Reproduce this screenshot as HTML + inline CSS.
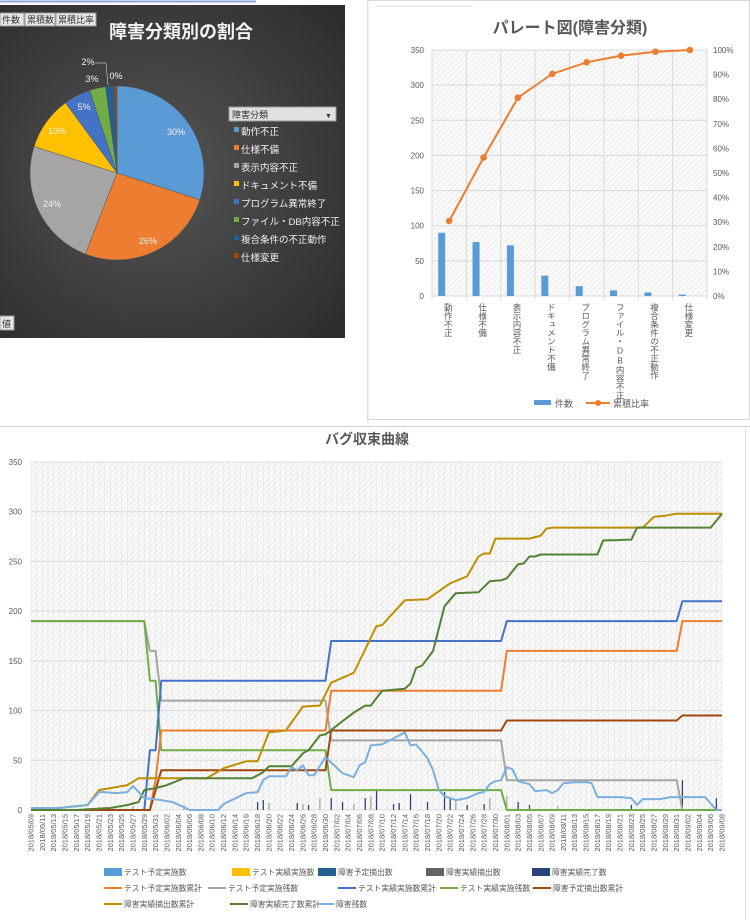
<!DOCTYPE html>
<html><head><meta charset="utf-8"><style>
body{margin:0;width:750px;height:920px;background:#fff;overflow:hidden;font-family:"Liberation Sans","Noto Sans CJK JP",sans-serif;}
svg{position:absolute;left:0;top:0}
</style></head><body>
<svg id="s" width="750" height="920" viewBox="0 0 750 920" xmlns="http://www.w3.org/2000/svg" font-family="Liberation Sans, Noto Sans CJK JP, sans-serif">
<defs>
<pattern id="hatch" width="4" height="4" patternUnits="userSpaceOnUse" patternTransform="rotate(45)">
<rect width="4" height="4" fill="#fafafa"/><line x1="0" y1="0" x2="0" y2="4" stroke="#e2e2e2" stroke-width="1.2"/></pattern>
<radialGradient id="dark" cx="0.45" cy="0.5" r="0.7"><stop offset="0" stop-color="#555"/><stop offset="1" stop-color="#2e2e2e"/></radialGradient>
</defs>
<line x1="0" y1="1.5" x2="256" y2="1.5" stroke="#8fa7d6" stroke-width="2"/>
<rect x="0" y="5" width="345" height="333" fill="url(#dark)"/>
<g font-size="9" fill="#333">
<rect x="0" y="13" width="24" height="13" fill="#e6e6e6" stroke="#999"/><text x="2" y="23">件数</text>
<rect x="25" y="13" width="30" height="13" fill="#e6e6e6" stroke="#999"/><text x="27" y="23">累積数</text>
<rect x="56" y="13" width="40" height="13" fill="#e6e6e6" stroke="#999"/><text x="58" y="23">累積比率</text>
<rect x="0" y="316" width="14" height="14" fill="#e6e6e6" stroke="#999"/><text x="2" y="327">値</text>
</g>
<text x="181" y="38" font-size="18" font-weight="bold" fill="#f2f2f2" text-anchor="middle">障害分類別の割合</text>
<g id="pie"></g>
<rect x="229" y="107" width="107" height="14" fill="#e0e0e0" stroke="#999"/>
<text x="232" y="118" font-size="9" fill="#333">障害分類</text><text x="325" y="118" font-size="7" fill="#333">▼</text>
<g id="pleg" font-size="9.5" fill="#f0f0f0"></g>
<rect x="367.5" y="0.5" width="382" height="419" fill="#fff" stroke="#d9d9d9"/>
<line x1="375" y1="6" x2="472" y2="6" stroke="#ddd"/>
<text x="570" y="33" font-size="16" font-weight="bold" fill="#595959" text-anchor="middle">パレート図(障害分類)</text>
<rect x="432" y="50" width="275" height="246" fill="url(#hatch)"/>
<g id="par"></g>
<line x1="0" y1="426.5" x2="750" y2="426.5" stroke="#d0d0d0"/>
<line x1="368" y1="0" x2="368" y2="426" stroke="#e0e0e0"/>
<line x1="745.5" y1="426" x2="745.5" y2="920" stroke="#ddd"/>
<text x="367" y="444" font-size="14" font-weight="bold" fill="#595959" text-anchor="middle">バグ収束曲線</text>
<rect x="31" y="462" width="691" height="348" fill="url(#hatch)"/>
<g id="bug"></g>
</svg>
<script>
const NS="http://www.w3.org/2000/svg";
function el(p,t,a,txt){const e=document.createElementNS(NS,t);for(const k in a)e.setAttribute(k,a[k]);if(txt!==undefined)e.textContent=txt;p.appendChild(e);return e;}
const pie=document.getElementById('pie');
const vals=[30,26,24,10,5,3,1.6,0.5];const cols=['#5b9bd5','#ed7d31','#a5a5a5','#ffc000','#4472c4','#70ad47','#255e91','#9e480e'];
const names=['動作不正','仕様不備','表示内容不正','ドキュメント不備','プログラム異常終了','ファイル・DB内容不正','複合条件の不正動作','仕様変更'];
let tot=vals.reduce((a,b)=>a+b),ang=0;const cx=117,cy=173,r=87;
vals.forEach((v,i)=>{const a0=ang,a1=ang+v/tot*2*Math.PI;ang=a1;
const x0=cx+r*Math.sin(a0),y0=cy-r*Math.cos(a0),x1=cx+r*Math.sin(a1),y1=cy-r*Math.cos(a1);
el(pie,'path',{d:`M${cx},${cy}L${x0},${y0}A${r},${r} 0 ${a1-a0>Math.PI?1:0} 1 ${x1},${y1}Z`,fill:cols[i],stroke:'#555','stroke-width':0.5});});
[['30%',176,135],['26%',148,244],['24%',52,207],['10%',57,134],['5%',84,110],['3%',92,82],['2%',88,65],['0%',116,79]].forEach(t=>el(pie,'text',{x:t[1],y:t[2],'font-size':9,fill:'#f2f2f2','text-anchor':'middle'},t[0]));
el(pie,'path',{d:'M95,63 L106,63 L108,85',stroke:'#bbb',fill:'none','stroke-width':0.7});
const pl=document.getElementById('pleg');
names.forEach((n,i)=>{const y=131+i*18;el(pl,'rect',{x:234,y:y-4,width:5,height:5,fill:cols[i]});el(pl,'text',{x:241,y:y+4},n);});
const par=document.getElementById('par');
const px0=432,pw=275,py0=296,ph=246;
for(let k=0;k<=7;k++){const y=py0-k*ph/7;el(par,'line',{x1:px0,x2:px0+pw,y1:y,y2:y,stroke:'#d9d9d9'});
el(par,'text',{x:424,y:y+3,'font-size':8,fill:'#595959','text-anchor':'end'},k*50);}
for(let k=0;k<=10;k++){const y=py0-k*ph/10;el(par,'text',{x:713,y:y+3,'font-size':8,fill:'#595959'},k*10+'%');}
const cnt=[90,77,72,29,14,8,5,2];const cum=[30.5,56.3,80.6,90.3,95,97.7,99.3,100];
const cw=pw/8;const pts=[];
cnt.forEach((c,i)=>{const x=px0+i*cw;el(par,'line',{x1:x,x2:x,y1:50,y2:py0+4,stroke:'#d9d9d9'});
const bh=c*ph/350;el(par,'rect',{x:x+cw/2-11,y:py0-bh,width:7,height:bh,fill:'#5b9bd5'});
pts.push([x+cw/2,py0-cum[i]*ph/100]);
el(par,'text',{x:x+cw/2-1,y:303,'font-size':8.5,fill:'#595959',style:'writing-mode:vertical-rl;text-orientation:upright'},names[i]);});
el(par,'line',{x1:px0+pw,x2:px0+pw,y1:50,y2:py0+4,stroke:'#d9d9d9'});
el(par,'polyline',{points:pts.map(p=>p.join(',')).join(' '),fill:'none',stroke:'#ed7d31','stroke-width':2});
pts.forEach(p=>el(par,'circle',{cx:p[0],cy:p[1],r:3.3,fill:'#ed7d31'}));
el(par,'rect',{x:534,y:400,width:17,height:5,fill:'#5b9bd5'});el(par,'text',{x:555,y:407,'font-size':9,fill:'#595959'},'件数');
el(par,'line',{x1:586,x2:610,y1:403,y2:403,stroke:'#ed7d31','stroke-width':2});el(par,'circle',{cx:598,cy:403,r:3,fill:'#ed7d31'});
el(par,'text',{x:613,y:407,'font-size':9,fill:'#595959'},'累積比率');
const bug=document.getElementById('bug');
const bx=i=>31+i*691/122, by=v=>810-v*348/350;
for(let i=0;i<=122;i++){el(bug,'line',{x1:bx(i),x2:bx(i),y1:462,y2:810,stroke:'#e3e3e3','stroke-width':0.6});}
for(let k=0;k<=7;k++){const y=by(k*50);el(bug,'line',{x1:31,x2:722,y1:y,y2:y,stroke:'#dcdcdc'});
el(bug,'text',{x:22,y:y+3,'font-size':8,fill:'#595959','text-anchor':'end'},k*50);}
const start=new Date(2018,4,9);
for(let i=0;i<=122;i+=2){const d=new Date(start.getTime()+i*86400000);
const s=`2018/${String(d.getMonth()+1).padStart(2,'0')}/${String(d.getDate()).padStart(2,'0')}`;
el(bug,'text',{x:0,y:0,'font-size':7.5,fill:'#595959','text-anchor':'end',transform:`translate(${bx(i)+2.5},814) rotate(-90)`},s);}
const bars=[[18,4],[40,8],[41,10],[42,7],[47,7],[48,6],[49,5],[51,12],[53,12],[55,8],[57,6],[59,12],[60,14],[61,20],[64,6],[65,7],[67,16],[70,8],[73,18],[74,12],[75,10],[77,5],[80,6],[81,12],[84,14],[86,8],[88,5],[93,4],[106,5],[115,30],[121,12],[27,5],[12,3]];
bars.forEach(b=>el(bug,'rect',{x:bx(b[0])-0.6,y:by(b[1]),width:1.3,height:810-by(b[1]),fill:b[0]%3?'#264478':'#a5a5a5'}));
function interp(k){const out=[];for(let i=0;i<=122;i++){let j=0;while(j<k.length-1&&k[j+1][0]<i)j++;
const a=k[j],b=k[Math.min(j+1,k.length-1)];let v=a[1];if(b[0]>a[0]&&i>=a[0])v=a[1]+(b[1]-a[1])*(i-a[0])/(b[0]-a[0]);if(i<=k[0][0])v=k[0][1];if(i>=k[k.length-1][0])v=k[k.length-1][1];out.push(v);}return out;}
function line(k,c,w){const v=interp(k);el(bug,'polyline',{points:v.map((y,i)=>bx(i).toFixed(1)+','+by(y).toFixed(1)).join(' '),fill:'none',stroke:c,'stroke-width':w||2,'stroke-linejoin':'round'});}
line([[0,190],[20,190],[21,160],[22,160],[23,110],[52,110],[53,70],[83,70],[84,30],[114,30],[115,0],[122,0]],'#a5a5a5');
line([[0,190],[20,190],[21,130],[22,130],[23,60],[52,60],[53,20],[83,20],[84,0],[122,0]],'#70ad47');
line([[0,0],[21,0],[22,30],[23,80],[52,80],[53,120],[83,120],[84,160],[114,160],[115,190],[122,190]],'#ed7d31');
line([[0,0],[20,0],[21,60],[22,60],[23,130],[52,130],[53,170],[83,170],[84,190],[114,190],[115,210],[122,210]],'#4472c4');
line([[0,0],[21,0],[23,40],[52,40],[53,80],[83,80],[84,90],[114,90],[115,95],[122,95]],'#9e480e');
line([[0,0],[5,2],[10,5],[12,20],[14,22],[17,25],[19,32],[31,32],[34,42],[38,49],[40,49],[42,78],[45,80],[48,104],[51,105],[53,128],[55,133],[57,138],[61,185],[62,186],[66,211],[70,212],[74,228],[77,235],[79,255],[80,258],[81,258],[82,273],[88,273],[90,276],[91,283],[92,284],[108,284],[110,295],[112,296],[114,298],[122,298]],'#bf8f00');
line([[0,0],[8,0],[14,2],[17,5],[19,8],[20,20],[22,22],[24,25],[27,32],[39,32],[41,38],[42,44],[46,44],[48,57],[49,60],[51,75],[52,76],[54,85],[57,98],[59,105],[60,105],[62,120],[66,122],[67,127],[68,143],[69,145],[71,160],[73,205],[75,218],[79,219],[81,230],[83,231],[84,233],[86,247],[87,248],[88,255],[89,255],[90,257],[100,257],[101,271],[106,272],[107,284],[120,284],[122,298]],'#548235');
line([[0,2],[5,2],[10,5],[12,18],[13,18],[15,17],[17,18],[18,24],[19,18],[20,12],[23,10],[25,8],[28,0],[33,0],[34,6],[38,17],[40,18],[41,30],[42,34],[45,34],[46,43],[47,40],[48,45],[49.5,30],[50.5,40],[52,53],[55,37],[57,33],[58,45],[59,48],[60,65],[62,66],[64,72],[66,78],[67,65],[68,66],[70,52],[71,40],[72,20],[73,14],[75,10],[77,12],[79,17],[80,18],[81,26],[82,29],[83,30],[84,43],[85,41],[86,29],[88,26],[89,19],[91,20],[92,17],[93,20],[94,27],[96,28],[98,28],[99,27],[100,13],[104,13],[106,12],[107,5],[108,11],[111,11],[113,13],[119,13],[121,0],[122,0]],'#7cafdd');
const L=[
[104,872,'bar','#5b9bd5','テスト予定実施数'],[232,872,'bar','#ffc000','テスト実績実施数'],[318,872,'bar','#255e91','障害予定摘出数'],[426,872,'bar','#636363','障害実績摘出数'],[532,872,'bar','#264478','障害実績完了数'],
[104,888,'ln','#ed7d31','テスト予定実施数累計'],[208,888,'ln','#a5a5a5','テスト予定実施残数'],[338,888,'ln','#4472c4','テスト実績実施数累計'],[440,888,'ln','#70ad47','テスト実績実施残数'],[533,888,'ln','#9e480e','障害予定摘出数累計'],
[104,904,'ln','#bf8f00','障害実績摘出数累計'],[230,904,'ln','#548235','障害実績完了数累計'],[316,904,'ln','#7cafdd','障害残数']];
L.forEach(l=>{if(l[2]=='bar')el(bug,'rect',{x:l[0],y:l[1]-4,width:18,height:8,fill:l[3]});else el(bug,'line',{x1:l[0],x2:l[0]+18,y1:l[1],y2:l[1],stroke:l[3],'stroke-width':2});
el(bug,'text',{x:l[0]+20,y:l[1]+3,'font-size':7.8,fill:'#595959'},l[4]);});
</script>
</body></html>
